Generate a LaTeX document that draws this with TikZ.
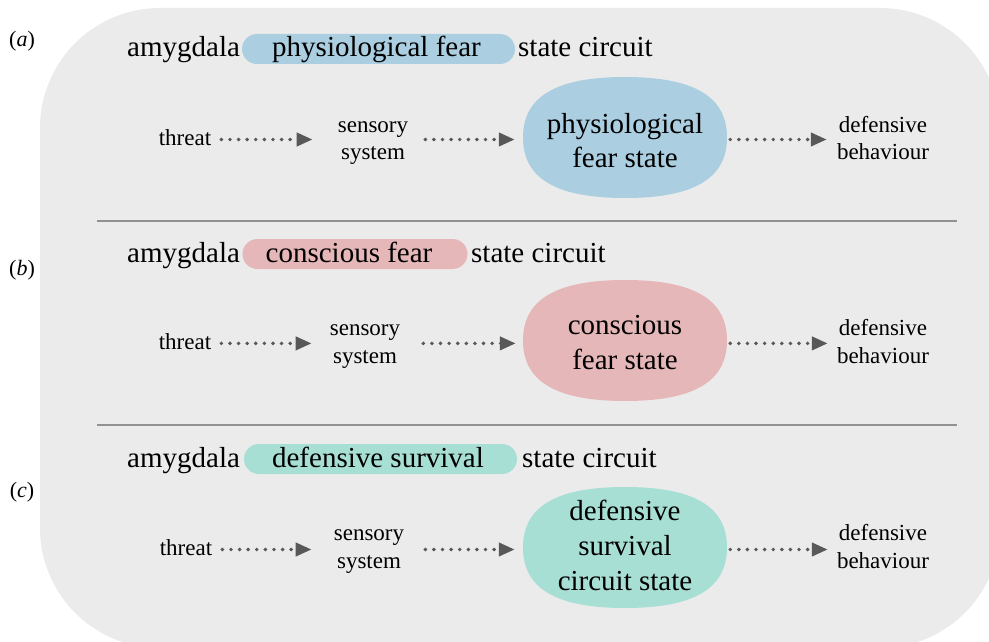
\documentclass[tikz,border=0pt]{standalone}
\usepackage{fontspec}
\setmainfont{Liberation Serif}
\usetikzlibrary{arrows.meta}
\definecolor{bggray}{RGB}{235,235,235}
\definecolor{pillblue}{RGB}{171,207,224}
\definecolor{pillred}{RGB}{230,183,184}
\definecolor{pillteal}{RGB}{168,223,212}
\definecolor{arrgray}{RGB}{88,88,88}
\definecolor{sepgray}{RGB}{145,145,145}
\tikzset{
  bigtext/.style={font=\fontsize{29}{35}\selectfont, inner sep=0pt, align=center},
  smalltext/.style={font=\fontsize{23}{28}\selectfont, inner sep=0pt, align=center},
  pill/.style={bigtext, rectangle, rounded corners=15pt, minimum height=30pt, text height=22pt, text depth=6pt},
  statebox/.style={bigtext, minimum width=204pt, minimum height=121pt},
  flow/.style={draw=arrgray, line width=3.9pt, dash pattern=on 0pt off 8.6pt, line cap=round, -{Triangle[length=16pt,width=13pt,line cap=butt]}},
  sepline/.style={draw=sepgray, line width=1.2pt},
  panellabel/.style={font=\fontsize{22}{26}\selectfont, inner sep=0pt, anchor=base},
}
% rounded oval state shape round a named centre
\newcommand{\stateshape}[2]{%
  \fill[#2] ([shift={(102,0)}]#1)
    .. controls ([shift={(102,-41)}]#1) and ([shift={(69,-60.5)}]#1) .. ([shift={(0,-60.5)}]#1)
    .. controls ([shift={(-69,-60.5)}]#1) and ([shift={(-102,-41)}]#1) .. ([shift={(-102,0)}]#1)
    .. controls ([shift={(-102,41)}]#1) and ([shift={(-69,60.5)}]#1) .. ([shift={(0,60.5)}]#1)
    .. controls ([shift={(69,60.5)}]#1) and ([shift={(102,41)}]#1) .. ([shift={(102,0)}]#1) -- cycle;}
\begin{document}
\begin{tikzpicture}[x=1pt,y=-1pt]
\useasboundingbox (0,0) rectangle (989,642);
\clip (0,0) rectangle (989,642);
\fill[bggray, rounded corners=120pt] (40,8) rectangle (1000,648);

% panel labels
\node[panellabel] (la) at (22,47) {(\textit{a})};
\node[panellabel] (lb) at (22,275) {(\textit{b})};
\node[panellabel] (lc) at (22,497) {(\textit{c})};

% separators
\coordinate (s1l) at (97,221); \coordinate (s1r) at (957,221);
\coordinate (s2l) at (97,425); \coordinate (s2r) at (957,425);
\draw[sepline] (s1l) -- (s1r);
\draw[sepline] (s2l) -- (s2r);

% state shapes
\coordinate (sca0) at (625,137.5);
\coordinate (scb0) at (625,340.5);
\coordinate (scc0) at (625,547.5);
\stateshape{sca0}{pillblue}
\stateshape{scb0}{pillred}
\stateshape{scc0}{pillteal}

% ---------- panel a ----------
\node[pill, fill=pillblue, minimum width=273pt] (pa) at (378.5,49) {physiological fear\hspace*{4pt}};
\node[bigtext, anchor=base west] (amya) at (127,57) {amygdala};
\node[bigtext, anchor=base west] (sca) at (518,57) {state circuit};
\node[smalltext] (tha) at (185,139.5) {\strut threat};
\node[smalltext] (sea) at (373,140.4) {\strut sensory\\\strut system};
\node[statebox] (sta) at (625,143.5) {\strut physiological\\\strut fear state};
\node[smalltext] (dea) at (883,140.4) {\strut defensive\\\strut behaviour};
\draw[flow, shorten <=10pt, shorten >=25pt] (tha.east) -- (tha.east -| sea.west);
\draw[flow, shorten <=17pt, shorten >=8pt] (sea.east |- tha.east) -- (sta.west |- tha.east);
\draw[flow, shorten <=3pt, shorten >=10pt] (sta.east |- tha.east) -- (dea.west |- tha.east);

% ---------- panel b ----------
\node[pill, fill=pillred, minimum width=225pt] (pb) at (355,254) {conscious fear\hspace*{12pt}};
\node[bigtext, anchor=base west] (amyb) at (127,262) {amygdala};
\node[bigtext, anchor=base west] (scb) at (471,262) {state circuit};
\node[smalltext] (thb) at (185,343.4) {\strut threat};
\node[smalltext] (seb) at (365,343.4) {\strut sensory\\\strut system};
\node[statebox] (stb) at (625,344.5) {\strut conscious\\\strut fear state};
\node[smalltext] (deb) at (883,343.4) {\strut defensive\\\strut behaviour};
\draw[flow, shorten <=10pt, shorten >=18pt] (thb.east) -- (thb.east -| seb.west);
\draw[flow, shorten <=23pt, shorten >=7pt] (seb.east |- thb.east) -- (stb.west |- thb.east);
\draw[flow, shorten <=3pt, shorten >=9pt] (stb.east |- thb.east) -- (deb.west |- thb.east);

% ---------- panel c ----------
\node[pill, fill=pillteal, minimum width=273pt] (pc) at (380.5,459) {defensive survival\hspace*{5pt}};
\node[bigtext, anchor=base west] (amyc) at (127,467) {amygdala};
\node[bigtext, anchor=base west] (scc) at (522,467) {state circuit};
\node[smalltext] (thc) at (186,549.5) {\strut threat};
\node[smalltext] (sec) at (369,549) {\strut sensory\\\strut system};
\node[statebox] (stc) at (625,548) {\strut defensive\\\strut survival\\\strut circuit state};
\node[smalltext] (dec) at (883,549) {\strut defensive\\\strut behaviour};
\draw[flow, shorten <=10pt, shorten >=22pt] (thc.east) -- (thc.east -| sec.west);
\draw[flow, shorten <=21pt, shorten >=8pt] (sec.east |- thc.east) -- (stc.west |- thc.east);
\draw[flow, shorten <=3pt, shorten >=9pt] (stc.east |- thc.east) -- (dec.west |- thc.east);
\end{tikzpicture}
\end{document}
